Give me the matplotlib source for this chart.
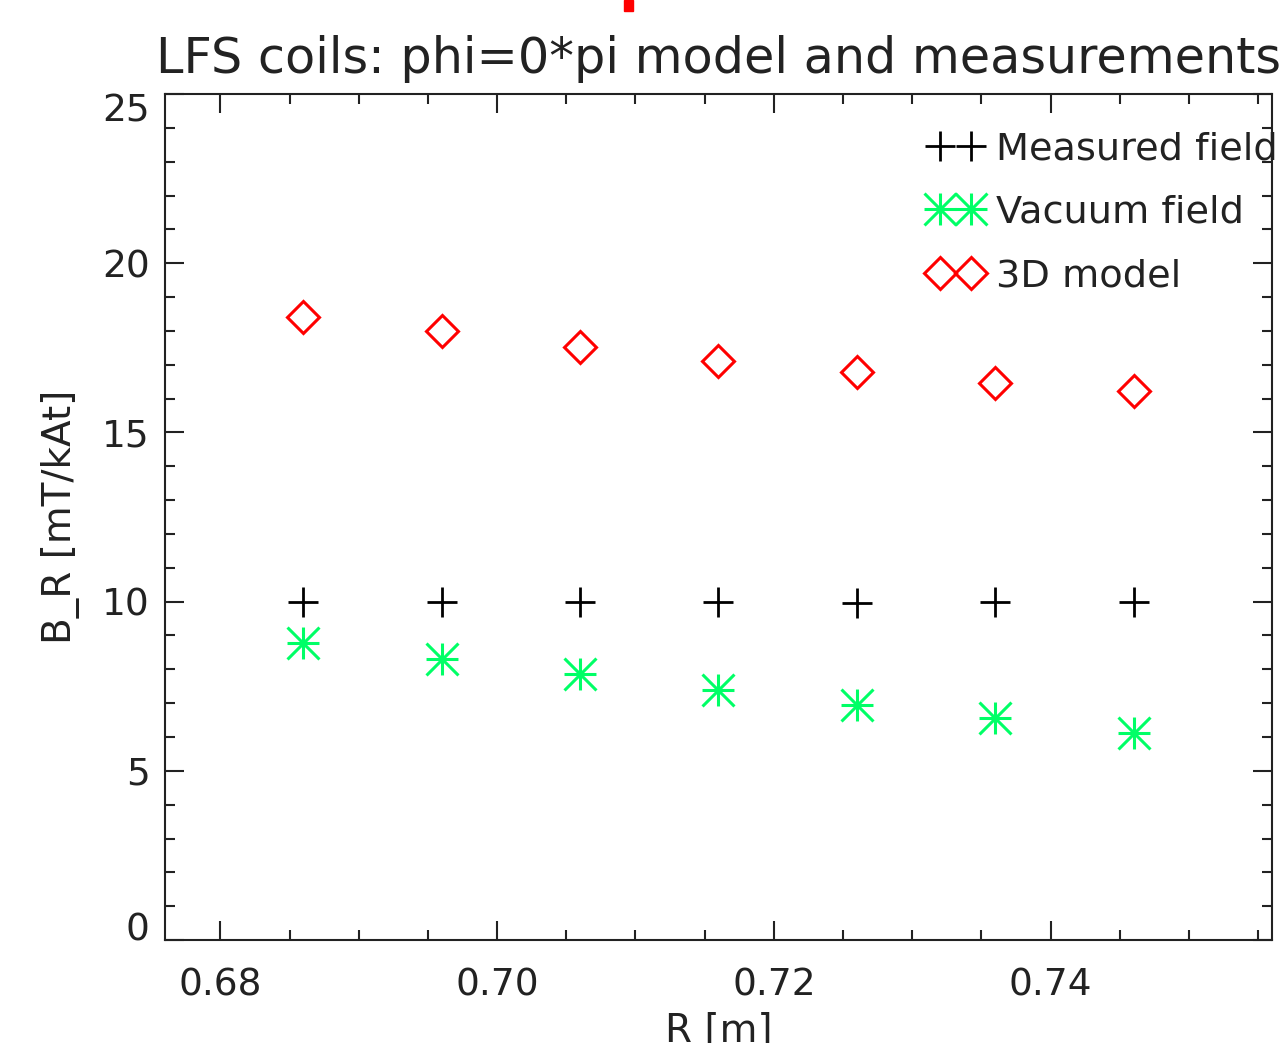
import matplotlib
matplotlib.use('Agg')
import matplotlib.pyplot as plt
from matplotlib.patches import Rectangle
from matplotlib.path import Path

plt.rcParams['font.family'] = 'DejaVu Sans'

# positions along R [m]
r = [0.686, 0.696, 0.706, 0.716, 0.726, 0.736, 0.746]
measured = [10.0, 10.0, 10.0, 10.0, 9.95, 10.0, 10.0]
vacuum = [8.78, 8.30, 7.86, 7.39, 6.94, 6.56, 6.12]
model_3d = [18.41, 18.0, 17.52, 17.11, 16.78, 16.46, 16.22]

# IDL style asterisk: plus with corner-to-corner diagonals
star = Path([(0, -1), (0, 1), (-1, 0), (1, 0), (-1, -1), (1, 1), (-1, 1), (1, -1)],
            [Path.MOVETO, Path.LINETO] * 4)

fig = plt.figure(figsize=(12.79, 10.43), dpi=100)
ax = fig.add_axes([0.129, 0.0987, 0.8655, 0.8112])

green = '#00ff66'
ax.plot(r, measured, linestyle='none', marker='+', ms=22, mew=2,
        color='black', label='Measured field')
ax.plot(r, vacuum, linestyle='none', marker=star, ms=23, mew=2.2,
        color=green, label='Vacuum field')
ax.plot(r, model_3d, linestyle='none', marker='D', ms=16.5, mew=2.2,
        fillstyle='none', color='red', label='3D model')

ax.set_xlim(0.676, 0.756)
ax.set_ylim(0, 25)
ax.set_xticks([0.68, 0.70, 0.72, 0.74])
ax.set_xticklabels(['0.68', '0.70', '0.72', '0.74'])
ax.set_xticks([0.685, 0.69, 0.695, 0.705, 0.71, 0.715, 0.725, 0.73, 0.735,
               0.745, 0.75, 0.755], minor=True)
ax.set_yticks([0, 5, 10, 15, 20, 25])
ax.set_yticklabels(['0', '5', '10', '15', '20', '25'])
ax.set_yticks([y for y in range(26) if y % 5], minor=True)

ax.tick_params(which='both', direction='in', top=True, right=True,
               width=1.5, color='#222222', labelsize=27, labelcolor='#222222')
ax.tick_params(which='major', length=14)
ax.tick_params(which='minor', length=7)
ax.tick_params(axis='x', pad=20)
ax.tick_params(axis='y', pad=11)
for s in ax.spines.values():
    s.set_linewidth(1.5)
    s.set_color('#222222')

# IDL keeps the end labels inside the axis range
ylabels = ax.get_yticklabels()
ylabels[0].set_va('baseline')
ylabels[-1].set_va('top')

ax.set_title('LFS coils: phi=0*pi model and measurements', fontsize=35.5,
             color='#222222', pad=15)
ax.set_xlabel('R [m]', fontsize=28, color='#222222', labelpad=6)
ax.set_ylabel('B_R [mT/kAt]', fontsize=28, color='#222222', labelpad=16)

ax.legend(loc='upper left', bbox_to_anchor=(0.690, 0.956), frameon=False,
          numpoints=2, fontsize=27.5, handlelength=1.4, handletextpad=0.35,
          labelspacing=0.72, borderpad=0, borderaxespad=0,
          labelcolor='#222222')

# cut-off red mark from a heading above the plot
fig.patches.append(Rectangle((624 / 1279, 1 - 11 / 1043), 9 / 1279, 11 / 1043,
                             transform=fig.transFigure, color='red'))

plt.savefig('out.png', dpi=100)
